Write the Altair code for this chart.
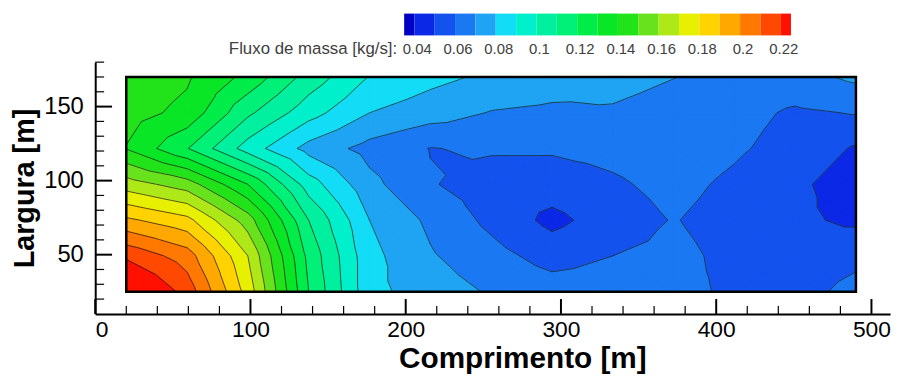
import altair as alt
import pandas as pd

# ---------------- data ----------------
X_NODES = [20, 59.2, 98.3, 137.5, 176.7, 215.8, 255, 294.2, 333.3, 372.5, 411.7, 450.8, 490]
Y_NODES = [25, 49.2, 73.3, 97.5, 121.7, 145.8, 170]

ROW_Y025 = [0.238, 0.216, 0.176, 0.120, 0.083, 0.075, 0.069, 0.065, 0.0655, 0.0625, 0.0585, 0.057, 0.0625]
ROW_Y049 = [0.218, 0.205, 0.170, 0.117, 0.083, 0.071, 0.0635, 0.056, 0.060, 0.0625, 0.0575, 0.055, 0.058]
ROW_Y073 = [0.192, 0.183, 0.155, 0.110, 0.080, 0.068, 0.0575, 0.0472, 0.055, 0.0605, 0.056, 0.052, 0.048]
ROW_Y097 = [0.165, 0.155, 0.130, 0.095, 0.073, 0.0608, 0.0553, 0.055, 0.0585, 0.063, 0.058, 0.052, 0.045]
ROW_Y122 = [0.1395, 0.1205, 0.0955, 0.0764, 0.0665, 0.0597, 0.0612, 0.0612, 0.063, 0.066, 0.0615, 0.056, 0.049]
ROW_Y146 = [0.1445, 0.137, 0.112, 0.094, 0.080, 0.0745, 0.0695, 0.068, 0.069, 0.0665, 0.0635, 0.0585, 0.0605]
ROW_Y170 = [0.148, 0.1415, 0.127, 0.106, 0.0895, 0.083, 0.078, 0.075, 0.073, 0.0702, 0.067, 0.0665, 0.072]
VALUES = [ROW_Y025, ROW_Y049, ROW_Y073, ROW_Y097, ROW_Y122, ROW_Y146, ROW_Y170]

LEVELS = [0.04, 0.05, 0.06, 0.07, 0.08, 0.09, 0.10, 0.11, 0.12, 0.13,
          0.14, 0.15, 0.16, 0.17, 0.18, 0.19, 0.20, 0.21, 0.22]
BAND_COLORS = ["#0000c4", "#0a28e6", "#1452ee", "#1a78f2", "#1ea4f2",
               "#12dcf6", "#00f0cc", "#00f0a0", "#00f078", "#00ec48",
               "#08e626", "#22e21a", "#68e21c", "#aee818", "#e6f000",
               "#ffd200", "#ffa800", "#ff7800", "#ff4800", "#ff1000"]
LEGEND_LIMITS = [0.035, 0.225]
LEGEND_LABELS = [0.04, 0.06, 0.08, 0.1, 0.12, 0.14, 0.16, 0.18, 0.2, 0.22]
LEGEND_TITLE = "Fluxo de massa [kg/s]:"

X_TICKS = [0, 100, 200, 300, 400, 500]
X_MINOR = [20, 40, 60, 80, 120, 140, 160, 180, 220, 240, 260, 280, 320, 340, 360, 380,
           420, 440, 460, 480]
Y_TICKS = [50, 100, 150]
Y_MINOR = [20, 30, 40, 60, 70, 80, 90, 110, 120, 130, 140, 160, 170, 180]

# ---------------- filled-contour geometry (marching triangles) ----------------
INF = float("inf")
edges = [-INF] + LEVELS + [INF]


def clip(poly, level, keep_above):
    out = []
    n = len(poly)
    for k in range(n):
        a = poly[k]
        b = poly[(k + 1) % n]
        ina = a[2] >= level if keep_above else a[2] <= level
        inb = b[2] >= level if keep_above else b[2] <= level
        if ina:
            out.append(a)
        if ina != inb:
            t = (level - a[2]) / (b[2] - a[2])
            out.append((a[0] + t * (b[0] - a[0]), a[1] + t * (b[1] - a[1]), level))
    return out


def area(poly):
    s = 0.0
    for k in range(len(poly)):
        a = poly[k]
        b = poly[(k + 1) % len(poly)]
        s += a[0] * b[1] - b[0] * a[1]
    return abs(s) / 2


triangles = []
for j in range(len(Y_NODES) - 1):
    for i in range(len(X_NODES) - 1):
        p00 = (X_NODES[i], Y_NODES[j], VALUES[j][i])
        p10 = (X_NODES[i + 1], Y_NODES[j], VALUES[j][i + 1])
        p11 = (X_NODES[i + 1], Y_NODES[j + 1], VALUES[j + 1][i + 1])
        p01 = (X_NODES[i], Y_NODES[j + 1], VALUES[j + 1][i])
        c = ((p00[0] + p10[0]) / 2, (p00[1] + p01[1]) / 2,
             (p00[2] + p10[2] + p11[2] + p01[2]) / 4)
        triangles += [(p00, p10, c), (p10, p11, c), (p11, p01, c), (p01, p00, c)]

poly_rows = []
pid = 0
for tri in triangles:
    for b in range(len(edges) - 1):
        poly = list(tri)
        if edges[b] > -INF:
            poly = clip(poly, edges[b], True)
        if len(poly) >= 3 and edges[b + 1] < INF:
            poly = clip(poly, edges[b + 1], False)
        if len(poly) >= 3 and area(poly) > 1e-6:
            for k, p in enumerate(poly + [poly[0]]):
                poly_rows.append({"pid": pid, "k": k, "x": p[0], "y": p[1], "c": BAND_COLORS[b]})
            pid += 1
poly_df = pd.DataFrame(poly_rows)

seg_rows = []
for tri in triangles:
    for L in LEVELS:
        pts = []
        for k in range(3):
            a = tri[k]
            b = tri[(k + 1) % 3]
            if (a[2] >= L) != (b[2] >= L):
                t = (L - a[2]) / (b[2] - a[2])
                pts.append((a[0] + t * (b[0] - a[0]), a[1] + t * (b[1] - a[1])))
        if len(pts) == 2:
            seg_rows.append({"x": pts[0][0], "y": pts[0][1], "x2": pts[1][0], "y2": pts[1][1]})
seg_df = pd.DataFrame(seg_rows)

# ---------------- chart ----------------
W, H = 802, 254
FONT = "Liberation Sans"
xs = alt.Scale(domain=[0, 512], nice=False, zero=False)
ys = alt.Scale(domain=[10, 180], nice=False, zero=False)
AX = alt.Axis(
    values=X_TICKS, ticks=False, grid=False, domainColor="black", domainWidth=2,
    labelFont=FONT, labelFontSize=23, labelColor="black", labelPadding=5,
    title="Comprimento [m]", titleFont=FONT, titleFontSize=30, titleFontWeight="bold",
    titleColor="black", titleX=431, titleY=54, titleBaseline="alphabetic")
AY = alt.Axis(
    values=Y_TICKS, ticks=False, grid=False, domainColor="black", domainWidth=2,
    labelFont=FONT, labelFontSize=24, labelColor="black", labelPadding=12,
    title="Largura [m]", titleFont=FONT, titleFontSize=29, titleFontWeight="bold",
    titleColor="black", titleAngle=270, titleX=-71, titleY=127,
    titleBaseline="middle", titleAlign="center")

polys = alt.Chart(poly_df).mark_line(strokeWidth=1.1, strokeJoin="round").encode(
    x=alt.X("x:Q", scale=xs, axis=AX),
    y=alt.Y("y:Q", scale=ys, axis=AY),
    detail="pid:N",
    order="k:Q",
    fill=alt.Fill("c:N", scale=None),
    stroke=alt.Stroke("c:N", scale=None),
)

lines = alt.Chart(seg_df).mark_rule(color="#1a1a1a", strokeWidth=0.85, opacity=0.85).encode(
    x=alt.X("x:Q", scale=xs, axis=AX), x2="x2:Q",
    y=alt.Y("y:Q", scale=ys, axis=AY), y2="y2:Q",
)

border_df = pd.DataFrame({"x": [X_NODES[0]], "x2": [X_NODES[-1]], "y": [Y_NODES[0]], "y2": [Y_NODES[-1]]})
border = alt.Chart(border_df).mark_rect(fillOpacity=0, stroke="black", strokeWidth=2.5).encode(
    x=alt.X("x:Q", scale=xs, axis=AX), x2="x2:Q",
    y=alt.Y("y:Q", scale=ys, axis=AY), y2="y2:Q",
)

xmaj = alt.Chart(pd.DataFrame({"t": X_TICKS})).mark_rule(color="black", strokeWidth=2).encode(
    x=alt.X("t:Q", scale=xs, axis=AX), y=alt.value(H), y2=alt.value(H - 15))
xmin = alt.Chart(pd.DataFrame({"t": X_MINOR})).mark_rule(color="black", strokeWidth=1.2).encode(
    x=alt.X("t:Q", scale=xs, axis=AX), y=alt.value(H), y2=alt.value(H - 8))
ymaj = alt.Chart(pd.DataFrame({"t": Y_TICKS})).mark_rule(color="black", strokeWidth=2).encode(
    y=alt.Y("t:Q", scale=ys, axis=AY), x=alt.value(0), x2=alt.value(17))
ymin = alt.Chart(pd.DataFrame({"t": Y_MINOR})).mark_rule(color="black", strokeWidth=1.2).encode(
    y=alt.Y("t:Q", scale=ys, axis=AY), x=alt.value(0), x2=alt.value(9))

plot = alt.layer(polys, lines, border, xmaj, xmin, ymaj, ymin)

# colour legend
cb_lo = [LEGEND_LIMITS[0]] + LEVELS
cb_hi = LEVELS + [LEGEND_LIMITS[1]]
cb_df = pd.DataFrame({"lo": cb_lo, "hi": cb_hi, "c": BAND_COLORS})
cbs = alt.Scale(domain=LEGEND_LIMITS, range=[311.7, 702], nice=False, zero=False)
cb = alt.Chart(cb_df).mark_rect().encode(
    x=alt.X("lo:Q", scale=cbs, axis=None), x2="hi:Q",
    y=alt.value(-49), y2=alt.value(-27),
    fill=alt.Fill("c:N", scale=None),
)
lab_df = pd.DataFrame({"v": LEGEND_LABELS, "s": [str(v) for v in LEGEND_LABELS]})
cb_text = alt.Chart(lab_df).mark_text(font=FONT, fontSize=15, color="#404040", baseline="middle", dx=3).encode(
    x=alt.X("v:Q", scale=cbs, axis=None), y=alt.value(-13), text="s:N")
cb_title = alt.Chart(pd.DataFrame({"v": [LEGEND_LIMITS[0]], "t": [LEGEND_TITLE]})).mark_text(
    font=FONT, fontSize=17, color="#404040", align="right", baseline="middle", dx=-7).encode(
    x=alt.X("v:Q", scale=cbs, axis=None), y=alt.value(-13), text="t:N")
legend = alt.layer(cb, cb_text, cb_title)

chart = alt.layer(plot, legend).resolve_scale(x="independent", y="independent").properties(
    width=W, height=H,
    autosize=alt.AutoSizeParams(type="none"),
    padding={"left": 88, "top": 53, "right": 9, "bottom": 61},
    background="white",
).configure_view(strokeWidth=0)

chart.save("out.html", embed_options={"renderer": "svg", "actions": False})
